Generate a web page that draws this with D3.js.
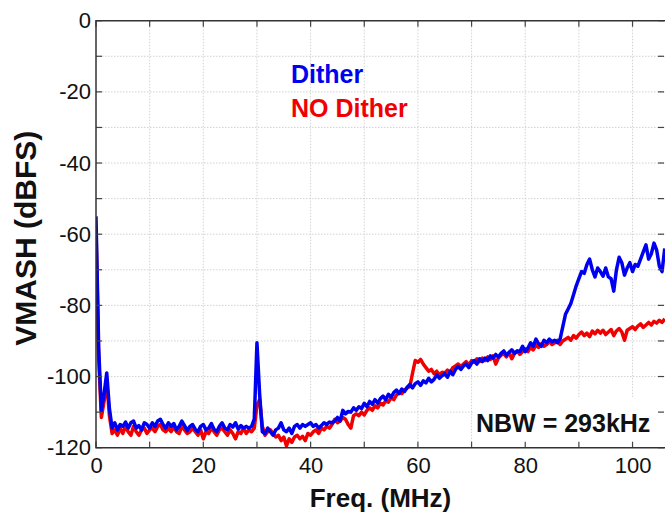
<!DOCTYPE html>
<html>
<head>
<meta charset="utf-8">
<script src="https://cdn.jsdelivr.net/npm/d3@7"></script>
<style>
  html, body { margin: 0; padding: 0; background: #fff; }
  svg { display: block; }
  text { font-family: Arial, "Liberation Sans", sans-serif; }
</style>
</head>
<body>
<svg id="chart" width="665" height="512"></svg>
<script>
// ---- Data (frequency step 0.5 MHz, starting at 0 MHz) ----
const freqStep = 0.5;
const ditherValues = [
  -55,-92,-109.5,-105,-99,-109,-114.5,-113,-115,-113.5,
  -114,-112.8,-114.5,-113,-112.5,-114.5,-113.8,-115,-113,-113.5,
  -114.5,-113,-114,-112.5,-112,-113.5,-114.5,-113,-114,-113.2,
  -115,-114,-112.5,-113.8,-115.2,-114,-113.5,-114.8,-115.5,-114,
  -113.5,-115,-114.5,-113.2,-114.8,-115.5,-114,-113,-114.5,-115,
  -113.5,-114.2,-113,-114.8,-113.8,-114.5,-114,-114.5,-114,-112,
  -90.5,-105,-115.5,-116,-114.5,-115.5,-116.5,-115,-114.5,-113,
  -115,-115.5,-114.5,-116,-114,-113.5,-114.5,-113.5,-114,-113.5,
  -113,-114,-113.5,-114.5,-113.8,-113,-113.5,-112.8,-113,-112.5,
  -111.5,-112.5,-109.5,-110.5,-109.8,-110,-108.8,-109.5,-108.5,-109,
  -107.5,-108.5,-107,-107.8,-106.5,-107.5,-106.2,-105.5,-106.5,-105,
  -105.8,-104.5,-103.8,-104.8,-103.5,-104.2,-103,-102.2,-103.2,-102,
  -101.5,-102.5,-101.2,-101.8,-100.5,-101.5,-100.8,-99.5,-100.5,-99.8,
  -99.2,-100.2,-98.5,-99.5,-98,-97.2,-98,-97,-96.5,-97.5,
  -96.2,-95.5,-96.5,-95,-95.8,-94.8,-95.5,-94.2,-94.8,-93.8,
  -94.5,-93.5,-92.8,-94,-93.2,-92.5,-93.5,-92.8,-93,-91.5,
  -93,-92,-90.5,-91.5,-89.5,-90.8,-91.5,-89.8,-90.5,-89.5,
  -90.2,-89.8,-90.5,-89.5,-86,-82.5,-81,-79.5,-77,-74.5,
  -72.5,-70.5,-71,-68.5,-67,-70,-72,-69.5,-70.5,-71.8,
  -69.5,-72,-72.5,-76,-70,-66.5,-68,-71.5,-69.5,-68,
  -70.5,-68.5,-69,-67,-65,-63,-67,-65.5,-62.5,-64.5,
  -69,-70.5,-64
];
const noDitherValues = [
  -58,-95,-111.5,-107,-101.5,-111,-116,-115,-116.5,-114.5,
  -116,-114,-115.5,-116.5,-114,-115.5,-116.5,-115,-114.5,-116,
  -115,-114.5,-115.5,-114,-113.5,-115,-115.5,-114.5,-115.5,-114.2,
  -115.5,-116,-114,-115,-116,-115.5,-114.5,-115.5,-116.5,-115,
  -117.5,-115.5,-116,-114.5,-115.5,-116.5,-115,-114.5,-115.5,-116.5,
  -115,-116,-117.5,-115.5,-116,-114.5,-116,-115,-115.5,-114.5,
  -108,-106.5,-114,-116.5,-115.5,-115,-116,-117,-116.5,-118,
  -117,-119.5,-117.5,-118.5,-117,-116.5,-117.5,-116.8,-118,-116,
  -116.5,-115.5,-115,-116,-114.5,-115,-114,-114.5,-113.5,-112,
  -113,-112.5,-111.5,-112,-113.5,-114.5,-111,-110.5,-111,-110,
  -110.8,-109.5,-108.8,-109.5,-108.2,-108.8,-107.5,-108,-106.8,-107.2,
  -106,-106.5,-105.2,-104.5,-104.8,-103.8,-103.2,-102.8,-99,-95.5,
  -96,-95.2,-96.5,-97.5,-98.5,-98,-99.2,-98.5,-99.5,-98.8,
  -99,-98.2,-98.8,-97.5,-97,-96.5,-97.2,-96.5,-95.8,-96.8,
  -95.5,-96,-95,-95.8,-94.8,-95.5,-94.5,-95.2,-94.2,-96.5,
  -94.8,-94,-93.5,-94.5,-93.2,-95,-93.5,-92.8,-93.8,-93,
  -92.2,-93,-91.8,-92.5,-91.2,-91.8,-90.8,-91.5,-91,-90.2,
  -91,-90.5,-89.8,-91,-90,-89.5,-89,-89.8,-88.5,-89.2,
  -88.2,-87.5,-88.5,-87.8,-88.8,-87.2,-88,-87,-87.8,-87,
  -88.2,-87.5,-86.8,-88.5,-87.2,-86.5,-87.5,-89.8,-87,-86.5,
  -86,-86.8,-85.8,-85.2,-86.2,-85.5,-84.8,-85.5,-84.5,-85,
  -84.2,-84.8,-83.8
];
const xTickLabels = [0, 20, 40, 60, 80, 100];
const yTickLabels = [0, -20, -40, -60, -80, -100, -120];
const seriesNames = ["Dither", "NO Dither"];
const seriesColors = ["#0000f0", "#f00000"];
const noteText = "NBW = 293kHz";
const xTitle = "Freq. (MHz)";
const yTitle = "VMASH (dBFS)";

// ---- Layout ----
const svg = d3.select("#chart");
const L = 96, R = 665, T = 20.7, B = 447.7;
const x = d3.scaleLinear().domain([0, 106.05]).range([L, R]);
const y = d3.scaleLinear().domain([-120, 0]).range([B, T]);
const fmt = d => String(d);
const FONT = "Arial, 'Liberation Sans', sans-serif";

// grid
const gridX = d3.range(10, 106, 10);
const gridY = d3.range(-110, 0, 10);
const grid = svg.append("g").attr("stroke", "#c8c8c8").attr("stroke-width", 0.8)
  .attr("stroke-dasharray", "1.5,1.5");
grid.selectAll(".gx").data(gridX).join("line")
  .attr("x1", d => x(d)).attr("x2", d => x(d)).attr("y1", T).attr("y2", B);
grid.selectAll(".gy").data(gridY).join("line")
  .attr("x1", L).attr("x2", R).attr("y1", d => y(d)).attr("y2", d => y(d));

// series
const toPts = vals => vals.map((v, i) => [i * freqStep, v]);
const line = d3.line().x(d => x(d[0])).y(d => y(d[1]));
svg.append("clipPath").attr("id", "clip").append("rect")
  .attr("x", L).attr("y", T).attr("width", R - L).attr("height", B - T);
const plot = svg.append("g").attr("clip-path", "url(#clip)");
plot.append("path").datum(toPts(noDitherValues)).attr("d", line)
  .attr("fill", "none").attr("stroke", seriesColors[1]).attr("stroke-width", 3.5)
  .attr("stroke-linejoin", "round");
plot.append("path").datum(toPts(ditherValues)).attr("d", line)
  .attr("fill", "none").attr("stroke", seriesColors[0]).attr("stroke-width", 3.5)
  .attr("stroke-linejoin", "round");

// NBW note box
svg.append("rect").attr("x", 474).attr("y", 397).attr("width", R - 474).attr("height", B - 397)
  .attr("fill", "#fff");
svg.append("text").attr("x", 476).attr("y", 432).attr("font-size", 25).attr("font-weight", "bold")
  .attr("fill", "#111").text(noteText);

// axes
const axG = svg.append("g");
const tickVals = d3.range(0, 107, 10);
const xAxisB = d3.axisBottom(x).tickValues(xTickLabels).tickSize(0).tickPadding(10).tickFormat(fmt);
const gb = axG.append("g").attr("transform", `translate(0,${B})`).call(xAxisB);
gb.select(".domain").remove();
gb.selectAll("text").attr("font-size", 22).attr("fill", "#111").attr("font-family", FONT);
const yAxisL = d3.axisLeft(y).tickValues(yTickLabels).tickSize(0).tickPadding(5).tickFormat(fmt);
const gl = axG.append("g").attr("transform", `translate(${L},0)`).call(yAxisL);
gl.select(".domain").remove();
gl.selectAll("text").attr("font-size", 22).attr("fill", "#111").attr("font-family", FONT);

// tick marks (inward)
const tk = svg.append("g").attr("stroke", "#444").attr("stroke-width", 1.2);
tk.selectAll(".tb").data(tickVals).join("line")
  .attr("x1", d => x(d)).attr("x2", d => x(d)).attr("y1", B).attr("y2", B - 6);
tk.selectAll(".tt").data(tickVals).join("line")
  .attr("x1", d => x(d)).attr("x2", d => x(d)).attr("y1", T).attr("y2", T + 6);
tk.selectAll(".tl").data(d3.range(-120, 1, 10)).join("line")
  .attr("x1", L).attr("x2", L + 6).attr("y1", d => y(d)).attr("y2", d => y(d));
tk.selectAll(".tr").data(d3.range(-120, 1, 10)).join("line")
  .attr("x1", R - 1).attr("x2", R - 7).attr("y1", d => y(d)).attr("y2", d => y(d));

// frame
svg.append("path").attr("d", `M${R},${T}H${L}V${B}H${R}`).attr("fill", "none")
  .attr("stroke", "#333").attr("stroke-width", 1.5);

// legend
svg.selectAll(".leg").data(seriesNames).join("text")
  .attr("x", 291).attr("y", (d, i) => 83 + i * 34)
  .attr("font-size", 25).attr("font-weight", "bold")
  .attr("fill", (d, i) => seriesColors[i]).text(d => d);

// titles
svg.append("text").attr("x", (L + R) / 2).attr("y", 507).attr("text-anchor", "middle")
  .attr("font-size", 26).attr("font-weight", "bold").attr("fill", "#111").text(xTitle);
svg.append("text").attr("transform", `translate(36,${(T + B) / 2 + 4}) rotate(-90)`)
  .attr("text-anchor", "middle").attr("font-size", 30).attr("font-weight", "bold")
  .attr("fill", "#111").text(yTitle);
</script>
</body>
</html>
